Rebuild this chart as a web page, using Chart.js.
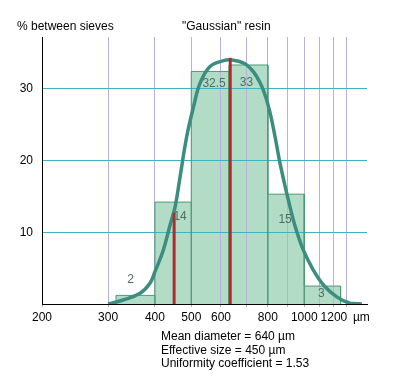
<!DOCTYPE html>
<html>
<head>
<meta charset="utf-8">
<script src="https://cdn.jsdelivr.net/npm/chart.js@4"></script>
<style>
  body { margin: 0; background: #fff; }
  #wrap { position: relative; width: 400px; height: 386px; }
  .txt { position: absolute; font: 12px "Liberation Sans", Arial, sans-serif; color: #000; white-space: nowrap; line-height: 14px; }
</style>
</head>
<body>
<div id="wrap">
  <canvas id="chart" width="400" height="386"></canvas>
  <div class="txt" style="left:17px; top:19px;">% between sieves</div>
  <div class="txt" style="left:182px; top:19px;">"Gaussian" resin</div>
  <div class="txt" style="left:161px; top:330px; line-height:13.5px;">
    Mean diameter = 640 µm<br>
    Effective size = 450 µm<br>
    Uniformity coefficient = 1.53
  </div>
</div>
<script>
/* sieve fractions */
const sieveLow = [315, 400, 500, 630, 800, 1000];
const sieveHigh = [400, 500, 630, 800, 1000, 1250];
const barValues = [1.2, 14.2, 32.4, 33.3, 15.3, 2.5];
const barLabels = ['2', '14', '32.5', '33', '15', '3'];

// fitted curve, points
const curveX = [300, 329, 365, 388, 400, 421, 439, 453, 467, 486, 507, 528, 561, 609, 641, 703, 763, 803, 836, 862, 907, 946, 995, 1058, 1125, 1221, 1325, 1424];
const curveY = [0, 0.56, 1.5, 2.9, 4.5, 7.5, 11, 13.6, 17.8, 23.3, 27.5, 30.8, 33.1, 33.9, 34.0, 33.3, 30.8, 27.5, 23.3, 19.6, 14.5, 10.8, 7.5, 4.7, 2.65, 1.0, 0.1, 0];

// effective size and mean diameter markers
const markerX = [450, 635];
const markerTop = [12.7, 34.3];

// axes
const xGridValues = [200, 300, 400, 500, 600, 700, 800, 900, 1000, 1100, 1200, 1300];
const xLabelled = [200, 300, 400, 500, 600, 800, 1000, 1200];
const unitTick = 1420;
const yTickValues = [0, 10, 20, 30];

// histogram outline built from the fractions
const barPoints = [];
sieveLow.forEach((lo, i) => {
    barPoints.push({ x: lo, y: 0 }, { x: lo, y: barValues[i] }, { x: sieveHigh[i], y: barValues[i] }, { x: sieveHigh[i], y: 0 });
});

const curvePoints = curveX.map((x, i) => ({ x: x, y: curveY[i] }));

// label nudges in pixels relative to bar centre / top, to dodge the curve
const labelNudge = [[-5, -16], [7, 15], [4, 12], [-2, 18], [-1, 26], [-1, 8]];

const barLabelPlugin = {
    id: 'barLabels',
    afterDatasetsDraw: (chart) => {
        const { ctx, scales: { x, y } } = chart;
        ctx.save();
        ctx.font = '12px "Liberation Sans", Arial, sans-serif';
        ctx.fillStyle = '#4b6f66';
        ctx.textAlign = 'center';
        ctx.textBaseline = 'middle';
        barLabels.forEach((label, i) => {
            const mid = Math.sqrt(sieveLow[i] * sieveHigh[i]);
            const px = x.getPixelForValue(mid) + labelNudge[i][0];
            const py = y.getPixelForValue(barValues[i]) + labelNudge[i][1];
            ctx.fillText(label, px, py);
        });
        ctx.restore();
    }
};

const tickFont = { family: '"Liberation Sans Narrow", "Arial Narrow", "Liberation Sans", sans-serif', size: 12 };

const datasets = [
    {
        label: 'Effective size',
        data: [{ x: markerX[0], y: 0 }, { x: markerX[0], y: markerTop[0] }],
        borderColor: '#b12a2e',
        borderWidth: 3,
        pointRadius: 0,
        order: 0
    },
    {
        label: 'Mean diameter',
        data: [{ x: markerX[1], y: 0 }, { x: markerX[1], y: markerTop[1] }],
        borderColor: '#b12a2e',
        borderWidth: 3,
        pointRadius: 0,
        order: 0
    },
    {
        label: 'Gaussian',
        data: curvePoints,
        borderColor: '#3b8e7f',
        borderWidth: 3.5,
        pointRadius: 0,
        tension: 0.4,
        order: 1
    },
    {
        label: 'Fractions',
        data: barPoints,
        borderColor: '#4f9878',
        backgroundColor: '#b3dcc7',
        borderWidth: 1,
        pointRadius: 0,
        tension: 0,
        fill: 'origin',
        order: 2
    }
];

new Chart(document.getElementById('chart').getContext('2d'), {
    type: 'line',
    data: { datasets: datasets },
    options: {
        responsive: false,
        animation: false,
        devicePixelRatio: 1,
        layout: { padding: { left: 0, right: 33, top: 37, bottom: 0 } },
        plugins: {
            legend: { display: false },
            tooltip: { enabled: false },
            filler: { drawTime: 'beforeDraw' }
        },
        scales: {
            x: {
                type: 'logarithmic',
                min: 200,
                max: 1470,
                afterBuildTicks: (axis) => {
                    axis.ticks = xGridValues.concat([unitTick]).map(v => ({ value: v }));
                },
                afterFit: (axis) => { axis.height = 82; },
                ticks: {
                    autoSkip: false,
                    maxRotation: 0,
                    padding: 3,
                    color: '#000',
                    font: tickFont,
                    callback: (value) => {
                        if (value === unitTick) return 'µm';
                        return xLabelled.includes(value) ? String(value) : '';
                    }
                },
                grid: {
                    color: (ctx) => (ctx.tick && ctx.tick.value === unitTick) ? 'rgba(0,0,0,0)' : '#b9b0dc',
                    tickLength: 3,
                    lineWidth: 1
                },
                border: { color: '#000', width: 1 }
            },
            y: {
                type: 'linear',
                min: 0,
                max: 37.2,
                afterBuildTicks: (axis) => {
                    axis.ticks = yTickValues.map(v => ({ value: v }));
                },
                afterFit: (axis) => { axis.width = 42; },
                ticks: {
                    padding: 9,
                    color: '#000',
                    font: tickFont,
                    callback: (value) => value === 0 ? '' : String(value)
                },
                grid: {
                    color: '#3db3c2',
                    drawTicks: false,
                    lineWidth: 1
                },
                border: { color: '#000', width: 1 }
            }
        }
    },
    plugins: [barLabelPlugin]
});
</script>
</body>
</html>
